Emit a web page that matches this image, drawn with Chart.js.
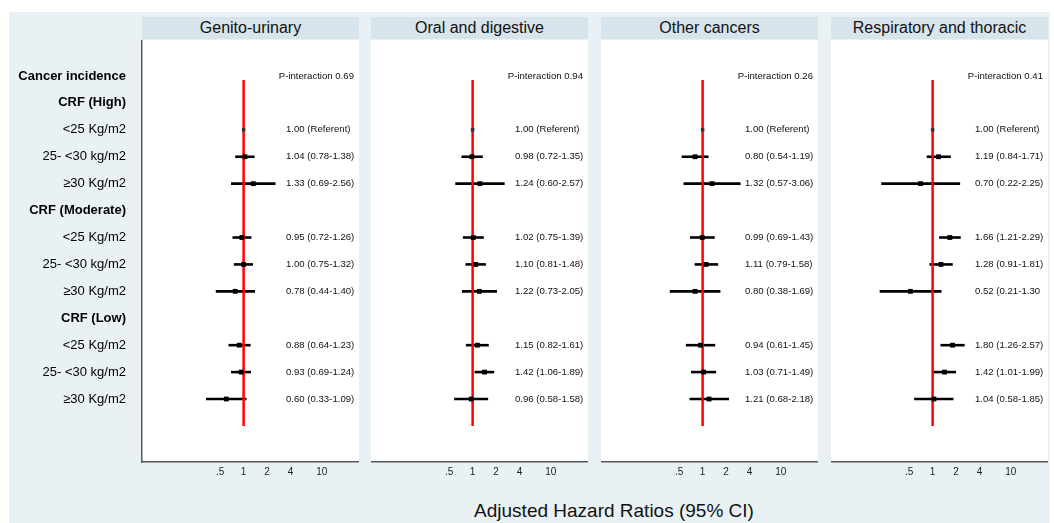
<!DOCTYPE html>
<html><head><meta charset="utf-8">
<script src="https://cdn.jsdelivr.net/npm/chart.js@4.4.0/dist/chart.umd.min.js"></script>
<style>
html,body{margin:0;padding:0;background:#fff;}
body{width:1054px;height:523px;position:relative;overflow:hidden;font-family:"Liberation Sans",Arial,sans-serif;}
#bg{position:absolute;left:9px;top:12px;width:1041px;height:511px;background:#e9f1f4;}
.strip{position:absolute;top:17px;height:22px;width:217px;background:#d7e4eb;color:#111;font-size:16px;line-height:22px;text-align:center;white-space:nowrap;}
canvas{position:absolute;}
#xtitle{position:absolute;top:499px;left:364px;width:500px;text-align:center;font-size:19px;color:#111;line-height:24px;white-space:nowrap;}
</style></head>
<body>
<div id="bg"></div>
<div id="strips"></div>
<div id="xtitle">Adjusted Hazard Ratios (95% CI)</div>
<script>
// ---------- DATA ----------
const rowLabels = ['Cancer incidence','CRF (High)','<25 Kg/m2','25- <30 kg/m2','\u226530 Kg/m2','CRF (Moderate)','<25 Kg/m2','25- <30 kg/m2','\u226530 Kg/m2','CRF (Low)','<25 Kg/m2','25- <30 kg/m2','\u226530 Kg/m2'];
const headerRows = [0,1,5,9];
const dataRows = [2,3,4,6,7,8,10,11,12];
const panelTitles = ['Genito-urinary','Oral and digestive','Other cancers','Respiratory and thoracic'];
const pInteraction = ['P-interaction 0.69','P-interaction 0.94','P-interaction 0.26','P-interaction 0.41'];
const tickValues = [0.5,1,2,4,10];
const tickLabels = ['.5','1','2','4','10'];

const guEst  = [1.00,1.04,1.33,0.95,1.00,0.78,0.88,0.93,0.60];
const guLow  = [null,0.78,0.69,0.72,0.75,0.44,0.64,0.69,0.33];
const guHigh = [null,1.38,2.56,1.26,1.32,1.40,1.23,1.24,1.09];
const guText = ['1.00 (Referent)','1.04 (0.78-1.38)','1.33 (0.69-2.56)','0.95 (0.72-1.26)','1.00 (0.75-1.32)','0.78 (0.44-1.40)','0.88 (0.64-1.23)','0.93 (0.69-1.24)','0.60 (0.33-1.09)'];

const odEst  = [1.00,0.98,1.24,1.02,1.10,1.22,1.15,1.42,0.96];
const odLow  = [null,0.72,0.60,0.75,0.81,0.73,0.82,1.06,0.58];
const odHigh = [null,1.35,2.57,1.39,1.48,2.05,1.61,1.89,1.58];
const odText = ['1.00 (Referent)','0.98 (0.72-1.35)','1.24 (0.60-2.57)','1.02 (0.75-1.39)','1.10 (0.81-1.48)','1.22 (0.73-2.05)','1.15 (0.82-1.61)','1.42 (1.06-1.89)','0.96 (0.58-1.58)'];

const ocEst  = [1.00,0.80,1.32,0.99,1.11,0.80,0.94,1.03,1.21];
const ocLow  = [null,0.54,0.57,0.69,0.79,0.38,0.61,0.71,0.68];
const ocHigh = [null,1.19,3.06,1.43,1.58,1.69,1.45,1.49,2.18];
const ocText = ['1.00 (Referent)','0.80 (0.54-1.19)','1.32 (0.57-3.06)','0.99 (0.69-1.43)','1.11 (0.79-1.58)','0.80 (0.38-1.69)','0.94 (0.61-1.45)','1.03 (0.71-1.49)','1.21 (0.68-2.18)'];

const rtEst  = [1.00,1.19,0.70,1.66,1.28,0.52,1.80,1.42,1.04];
const rtLow  = [null,0.84,0.22,1.21,0.91,0.21,1.26,1.01,0.58];
const rtHigh = [null,1.71,2.25,2.29,1.81,1.30,2.57,1.99,1.85];
const rtText = ['1.00 (Referent)','1.19 (0.84-1.71)','0.70 (0.22-2.25)','1.66 (1.21-2.29)','1.28 (0.91-1.81)','0.52 (0.21-1.30','1.80 (1.26-2.57)','1.42 (1.01-1.99)','1.04 (0.58-1.85)'];

const refLineSpan = [0.15, 13];

// ---------- LAYOUT / STYLE ----------
const panels = [
  {est:guEst, low:guLow, high:guHigh, text:guText},
  {est:odEst, low:odLow, high:odHigh, text:odText},
  {est:ocEst, low:ocLow, high:ocHigh, text:ocText},
  {est:rtEst, low:rtLow, high:rtHigh, text:rtText}
];
const panelLeft = [142, 371, 601, 831];
const panelW = 217;
const canvasTop = 40, canvasH = 445, plotH = 422;
const FONT = '"Liberation Sans", Arial, sans-serif';

const stripsDiv = document.getElementById('strips');
panelTitles.forEach((t,i)=>{
  const d = document.createElement('div');
  d.className='strip'; d.style.left=panelLeft[i]+'px'; d.textContent=t;
  stripsDiv.appendChild(d);
});

const bgPlugin = {
  id:'bgPlugin',
  beforeDraw(chart){
    const a = chart.chartArea, c = chart.ctx;
    c.save(); c.fillStyle='#ffffff';
    c.fillRect(a.left, a.top, a.right-a.left, a.bottom-a.top);
    c.restore();
  }
};
const textPlugin = {
  id:'textPlugin',
  afterDatasetsDraw(chart, args, opts){
    const a = chart.chartArea, c = chart.ctx, ys = chart.scales.y;
    c.save();
    c.fillStyle='#111';
    c.font = '9.6px ' + FONT;
    c.textBaseline='middle';
    c.textAlign='left';
    opts.texts.forEach((t,k)=>{
      c.fillText(t, a.left+144, ys.getPixelForValue(dataRows[k]));
    });
    c.textAlign='right';
    c.fillText(opts.p, a.right-5, ys.getPixelForValue(0));
    c.restore();
  }
};

panels.forEach((p, pi)=>{
  const first = pi===0;
  const cv = document.createElement('canvas');
  const left = first ? 0 : panelLeft[pi];
  const w = first ? panelLeft[0]+panelW : panelW;
  cv.width = w; cv.height = canvasH;
  cv.style.left = left+'px'; cv.style.top = canvasTop+'px';
  cv.style.width = w+'px'; cv.style.height = canvasH+'px';
  document.body.appendChild(cv);

  const datasets = [];
  // markers
  datasets.push({
    data: p.est.map((v,k)=>({x:v, y:dataRows[k]})),
    pointStyle:'rect',
    pointRadius: p.low.map(l => l===null ? 2.5 : 3.4),
    backgroundColor: p.low.map(l => l===null ? '#333' : '#000'),
    borderWidth:0,
    showLine:false,
    order:0
  });
  // reference line at HR = 1
  datasets.push({
    data: refLineSpan.map(y=>({x:1, y:y})),
    showLine:true, borderColor:'#ff0000', borderWidth:2.5,
    pointRadius:0, order:1
  });
  // CI lines
  p.low.forEach((l,k)=>{
    if(l===null) return;
    datasets.push({
      data:[{x:l, y:dataRows[k]},{x:p.high[k], y:dataRows[k]}],
      showLine:true, borderColor:'#000', borderWidth:2.6,
      pointRadius:0, order:2
    });
  });

  new Chart(cv, {
    type:'scatter',
    data:{datasets},
    plugins:[bgPlugin, textPlugin],
    options:{
      responsive:false, animation:false, devicePixelRatio:1,
      layout:{padding:0, autoPadding:false},
      plugins:{legend:{display:false}, tooltip:{enabled:false},
        textPlugin:{texts:p.text, p:pInteraction[pi]}},
      scales:{
        x:{
          type:'logarithmic', min:0.05, max:30,
          afterBuildTicks: s => { s.ticks = tickValues.map(v=>({value:v})); },
          afterFit: s => { s.height = canvasH - plotH; s.paddingLeft = 0; s.paddingRight = 0; },
          grid:{display:false, drawTicks:false},
          border:{display:true, color:'#5a5a5a', width:1.5},
          ticks:{autoSkip:false, maxRotation:0, padding:4,
            callback:(v,i)=>tickLabels[i],
            color:'#222', font:{family:FONT, size:10}}
        },
        y:{
          type:'linear', reverse:true, min:-1.337, max:14.34,
          display: first,
          afterBuildTicks: s => { s.ticks = rowLabels.map((_,i)=>({value:i})); },
          afterFit: s => { if (first) { s.width = panelLeft[0]; } s.paddingTop = 0; s.paddingBottom = 0; },
          grid:{display:false, drawTicks:false},
          border:{display:true, color:'#5a5a5a', width:1.5},
          ticks:{autoSkip:false, padding:16,
            callback:(v,i)=>rowLabels[i],
            color:'#000',
            font: ctx => ({family:FONT, size:13, weight: headerRows.includes(ctx.index) ? 'bold' : 'normal'})}
        }
      }
    }
  });
});
</script>
</body></html>
